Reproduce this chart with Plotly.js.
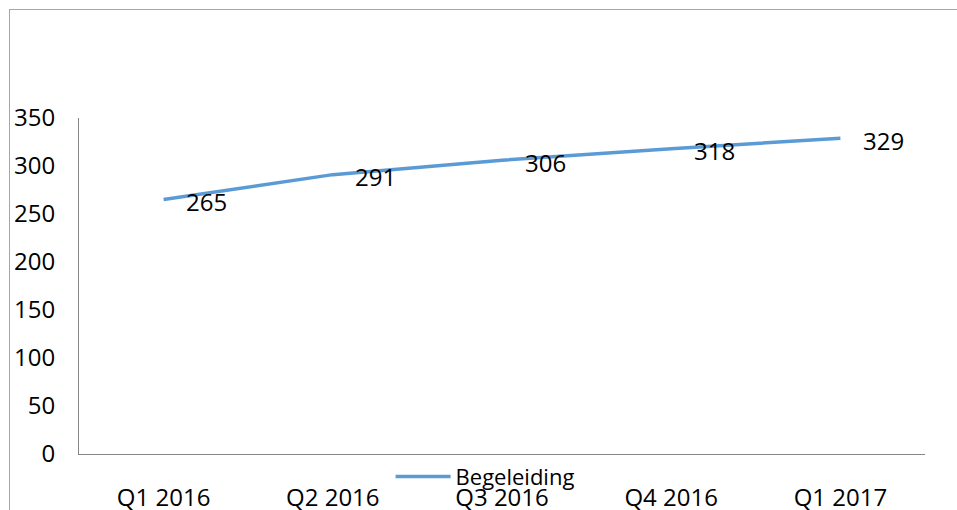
<!DOCTYPE html>
<html>
<head>
<meta charset="utf-8">
<script src="https://cdn.plot.ly/plotly-3.0.1.min.js"></script>
<style>
html, body { margin:0; padding:0; overflow:hidden; background:#fff; }
#wrap { position:relative; width:957px; height:510px; overflow:hidden; }
#chart { width:957px; height:510px; }
#frame { position:absolute; left:9px; top:9px; width:1000px; height:600px; border:1px solid #a6a6a6; pointer-events:none; }
</style>
</head>
<body>
<div id="wrap">
<div id="chart"></div>
<div id="frame"></div>
</div>
<script>
const categories = ["Q1 2016", "Q2 2016", "Q3 2016", "Q4 2016", "Q1 2017"];
const values = [265, 291, 306, 318, 329];
const seriesName = "Begeleiding";
const yTicks = [0, 50, 100, 150, 200, 250, 300, 350];

const font = "Open Sans, Noto Sans, sans-serif";

const trace = {
  x: categories,
  y: values,
  type: "scatter",
  mode: "lines",
  name: seriesName,
  line: { color: "#5B9BD5", width: 3.5 },
  hoverinfo: "none"
};

const annotations = categories.map((c, i) => ({
  x: c, y: values[i], xref: "x", yref: "y",
  text: String(values[i]), showarrow: false,
  xanchor: "center", yanchor: "middle",
  xshift: 43, yshift: -2,
  font: { family: font, size: 24, color: "#000" }
}));

const layout = {
  width: 957, height: 510,
  margin: { l: 79, r: 32, t: 118, b: 47 },
  paper_bgcolor: "#fff", plot_bgcolor: "#fff",
  font: { family: font, size: 24, color: "#000" },
  showlegend: true,
  legend: {
    orientation: "h", x: 0.48, xanchor: "center", y: -0.005, yanchor: "top",
    bgcolor: "rgba(0,0,0,0)", itemwidth: 55,
    font: { family: font, size: 22, color: "#000" }
  },
  xaxis: {
    type: "category", range: [-0.5, 4.5], showgrid: false, zeroline: false,
    showline: true, linecolor: "#868686", linewidth: 1,
    ticks: "", ticklabelstandoff: 22,
    tickfont: { family: font, size: 24, color: "#000" }
  },
  yaxis: {
    range: [0, 350], tickvals: yTicks, showgrid: false, zeroline: false,
    showline: true, linecolor: "#868686", linewidth: 1,
    ticks: "", ticklabelstandoff: 18,
    tickfont: { family: font, size: 24, color: "#000" }
  },
  annotations: annotations
};

Plotly.newPlot("chart", [trace], layout, { staticPlot: true, displayModeBar: false });
</script>
</body>
</html>
